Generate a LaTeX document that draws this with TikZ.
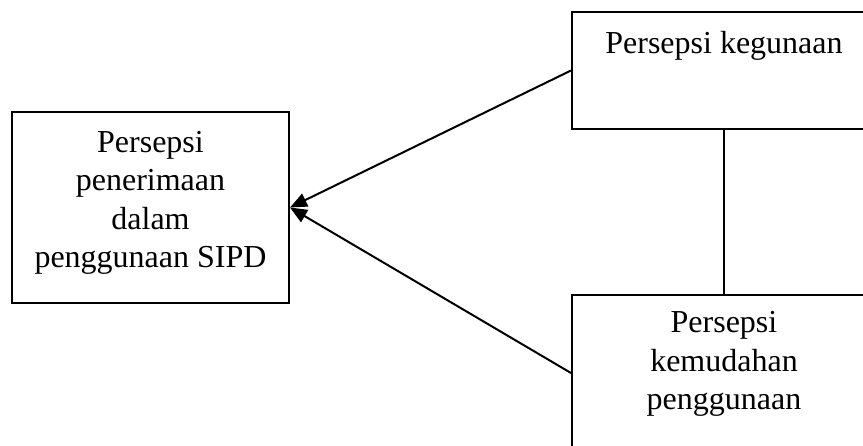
\documentclass[tikz,border=0pt]{standalone}
\usepackage{fontspec}
\setmainfont{Liberation Serif}
\usetikzlibrary{arrows.meta}
\begin{document}
\begin{tikzpicture}[x=1pt,y=-1pt,
  box/.style={draw,line width=2pt,inner sep=0pt,anchor=center},
  label/.style={font=\fontsize{32}{38.4}\selectfont,align=center,inner sep=0pt},
  link/.style={line width=2pt,-{Triangle[length=17pt,width=14pt]}}]
\useasboundingbox (0,0) rectangle (863,446);
\clip (0,0) rectangle (863,446);
\fill[white] (0,0) rectangle (863,446);
\node[box,minimum width=277pt,minimum height=191pt] (accept) at (150.5,207.5) {};
\node[box,minimum width=304pt,minimum height=117pt] (useful) at (724,70.5) {};
\node[box,minimum width=304pt,minimum height=156pt] (ease) at (724,373) {};
\node[label] (taccept) at (150.5,203) {Persepsi\\penerimaan\\dalam\\penggunaan SIPD};
\node[label,anchor=base] (tuseful) at (724,53.3) {Persepsi kegunaan};
\node[label] (tease) at (724,364) {Persepsi\\kemudahan\\penggunaan};
\draw[link] (useful.west) -- (accept.east);
\draw[link] (ease.west) -- (accept.east);
\draw[line width=2pt] (useful.south) -- (ease.north);
\end{tikzpicture}
\end{document}
